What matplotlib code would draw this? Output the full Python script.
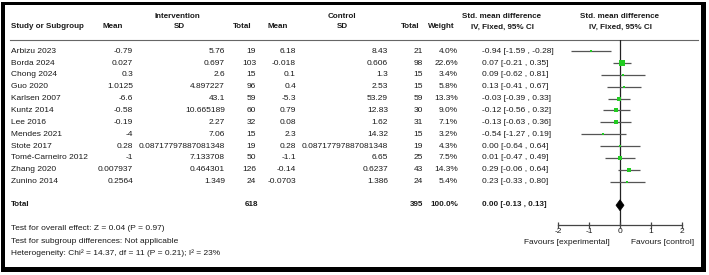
import numpy as np
import matplotlib
matplotlib.use("Agg")
import matplotlib.pyplot as plt
from matplotlib.patches import Rectangle, Polygon

plt.rcParams['font.family'] = ['Liberation Sans', 'DejaVu Sans']

# data
studies = ["Arbizu 2023", "Borda 2024", "Chong 2024", "Guo 2020", "Karlsen 2007",
           "Kuntz 2014", "Lee 2016", "Mendes 2021", "Stote 2017",
           "Tomé-Carneiro 2012", "Zhang 2020", "Zunino 2014"]
int_mean = ["-0.79", "0.027", "0.3", "1.0125", "-6.6", "-0.58", "-0.19", "-4",
            "0.28", "-1", "0.007937", "0.2564"]
int_sd = ["5.76", "0.697", "2.6", "4.897227", "43.1", "10.665189", "2.27", "7.06",
          "0.08717797887081348", "7.133708", "0.464301", "1.349"]
int_n = [19, 103, 15, 96, 59, 60, 32, 15, 19, 50, 126, 24]
ctl_mean = ["6.18", "-0.018", "0.1", "0.4", "-5.3", "0.79", "0.08", "2.3",
            "0.28", "-1.1", "-0.14", "-0.0703"]
ctl_sd = ["8.43", "0.606", "1.3", "2.53", "53.29", "12.83", "1.62", "14.32",
          "0.08717797887081348", "6.65", "0.6237", "1.386"]
ctl_n = [21, 98, 15, 15, 59, 30, 31, 15, 19, 25, 43, 24]
weight = [4.0, 22.6, 3.4, 5.8, 13.3, 9.0, 7.1, 3.2, 4.3, 7.5, 14.3, 5.4]
smd = [-0.94, 0.07, 0.09, 0.13, -0.03, -0.12, -0.13, -0.54, 0.00, 0.01, 0.29, 0.23]
ci_lo = [-1.59, -0.21, -0.62, -0.41, -0.39, -0.56, -0.63, -1.27, -0.64, -0.47, -0.06, -0.33]
ci_hi = [-0.28, 0.35, 0.81, 0.67, 0.33, 0.32, 0.36, 0.19, 0.64, 0.49, 0.64, 0.80]
total_int_n = 618
total_ctl_n = 395
total_weight = 100.0
total_smd, total_lo, total_hi = 0.00, -0.13, 0.13
footer = ["Test for overall effect: Z = 0.04 (P = 0.97)",
          "Test for subgroup differences: Not applicable",
          "Heterogeneity: Chi² = 14.37, df = 11 (P = 0.21); I² = 23%"]
xticks = [-2, -1, 0, 1, 2]

W, H = 709, 275
fs = 6.0
tc = '#1a1a1a'

fig = plt.figure(figsize=(W / 100, H / 100), dpi=100)
ax = fig.add_axes([0, 0, 1, 1])
ax.set_xlim(0, W)
ax.set_ylim(H, 0)
ax.axis('off')

# frame
ax.add_patch(Rectangle((1, 2), 705, 270, facecolor='black', edgecolor='none', zorder=0))
ax.add_patch(Rectangle((5, 5), 696, 262, facecolor='white', edgecolor='none', zorder=0))

def row_y(i):
    return 51.2 + 11.85 * i

# headers
hb = dict(fontsize=5.8, fontweight='bold', color=tc, va='center')
ax.text(11, 27, "Study or Subgroup", ha='left', **hb)
ax.text(177, 16, "Intervention", ha='center', **hb)
ax.text(113, 27, "Mean", ha='center', **hb)
ax.text(179, 27, "SD", ha='center', **hb)
ax.text(242, 27, "Total", ha='center', **hb)
ax.text(342, 16, "Control", ha='center', **hb)
ax.text(278, 27, "Mean", ha='center', **hb)
ax.text(342, 27, "SD", ha='center', **hb)
ax.text(410, 27, "Total", ha='center', **hb)
ax.text(441, 27, "Weight", ha='center', **hb)
ax.text(502, 16, "Std. mean difference", ha='center', **hb)
ax.text(502, 27, "IV, Fixed, 95% CI", ha='center', **hb)
ax.text(620, 16, "Std. mean difference", ha='center', **hb)
ax.text(620, 27, "IV, Fixed, 95% CI", ha='center', **hb)
ax.plot([10, 698], [40, 40], color='#666666', lw=0.8)

tn = dict(fontsize=fs, color=tc, va='center')
for i, s in enumerate(studies):
    y = row_y(i)
    ax.text(11, y, s, ha='left', **tn)
    ax.text(133, y, int_mean[i], ha='right', **tn)
    ax.text(225, y, int_sd[i], ha='right', **tn)
    ax.text(256, y, str(int_n[i]), ha='right', **tn)
    ax.text(296, y, ctl_mean[i], ha='right', **tn)
    ax.text(388, y, ctl_sd[i], ha='right', **tn)
    ax.text(423, y, str(ctl_n[i]), ha='right', **tn)
    ax.text(458, y, f"{weight[i]:.1f}%", ha='right', **tn)
    ax.text(482, y, f"{smd[i]:.2f} [{ci_lo[i]:.2f} , {ci_hi[i]:.2f}]", ha='left', **tn)

yt = row_y(13) - 1
ax.text(11, yt, "Total", ha='left', **hb)
ax.text(258, yt, str(total_int_n), ha='right', **hb)
ax.text(423, yt, str(total_ctl_n), ha='right', **hb)
ax.text(458, yt, f"{total_weight:.1f}%", ha='right', **hb)
ax.text(482, yt, f"{total_smd:.2f} [{total_lo:.2f} , {total_hi:.2f}]", ha='left', **hb)

for k, line in enumerate(footer):
    ax.text(11, 229 + 12.3 * k, line, ha='left', **tn)

ax.text(567, 242, "Favours [experimental]", ha='center', **tn)
ax.text(663, 242, "Favours [control]", ha='center', **tn)

# forest plot axes
x0, x1, ytop, ybot = 558, 682, 40, 225
fa = fig.add_axes([x0 / W, 1 - ybot / H, (x1 - x0) / W, (ybot - ytop) / H])
fa.patch.set_visible(False)
fa.set_xlim(-2, 2)
fa.set_ylim((ybot - 51.2) / 11.85, (ytop - 51.2) / 11.85)
for sp in ['top', 'left', 'right']:
    fa.spines[sp].set_visible(False)
fa.spines['bottom'].set_color('#444444')
fa.spines['bottom'].set_linewidth(0.9)
fa.set_yticks([])
fa.set_xticks(xticks)
fa.set_xticklabels([str(t) for t in xticks])
fa.tick_params(axis='x', labelsize=fs, labelcolor=tc, color='#444444',
               direction='inout', length=4, width=0.9, pad=0.5)

fa.axvline(0, color='#222222', lw=0.9, zorder=1)
rows = np.arange(len(studies))
fa.hlines(rows, ci_lo, ci_hi, color='#555555', lw=0.9, zorder=2)
for i in rows:
    fa.plot(smd[i], i, marker='s', color='#22cc22', markeredgewidth=0,
            markersize=max(1.8, 0.85 * np.sqrt(weight[i])), zorder=3)

dh = 0.46
fa.add_patch(Polygon([[total_lo, 13], [total_smd, 13 - dh], [total_hi, 13], [total_smd, 13 + dh]],
                     closed=True, facecolor='black', edgecolor='black', lw=0.5, zorder=4))

fig.savefig("out.png", dpi=100)
